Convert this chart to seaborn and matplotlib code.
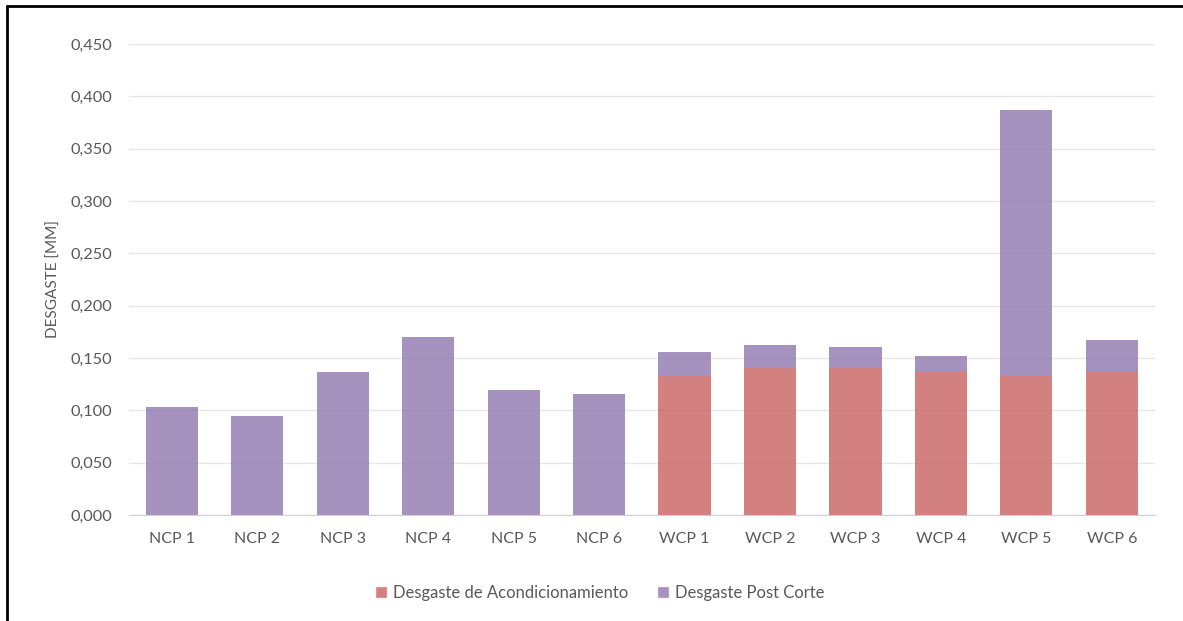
import seaborn as sns
import matplotlib.pyplot as plt
import pandas as pd
from matplotlib.patches import Patch
from matplotlib.lines import Line2D
from matplotlib.ticker import FuncFormatter, MultipleLocator

categories = ["NCP 1", "NCP 2", "NCP 3", "NCP 4", "NCP 5", "NCP 6",
              "WCP 1", "WCP 2", "WCP 3", "WCP 4", "WCP 5", "WCP 6"]
acondicionamiento = [0, 0, 0, 0, 0, 0,
                     0.1325, 0.1407, 0.1407, 0.1373, 0.1325, 0.1373]
post_corte = [0.1030, 0.0946, 0.1366, 0.1700, 0.1194, 0.1156,
              0.0235, 0.0217, 0.0198, 0.0147, 0.2545, 0.0296]

red = "#CC6A6A"
purple = "#957FB4"
text_color = "#595959"

df = pd.DataFrame({"muestra": categories,
                   "acond": acondicionamiento,
                   "post": post_corte})

sns.set_style("white")
plt.rcParams["font.family"] = ["Lato", "DejaVu Sans"]

fig = plt.figure(figsize=(11.83, 6.21), dpi=100)
ax = fig.add_axes([0.109, 0.1707, 0.867, 0.7584])

sns.barplot(data=df, x="muestra", y="acond", color=red, alpha=0.85,
            width=0.61, linewidth=0, saturation=1, ax=ax)
sns.barplot(data=df, x="muestra", y="post", bottom=df["acond"].values,
            color=purple, alpha=0.85, width=0.61, linewidth=0,
            saturation=1, ax=ax)

ax.set_ylim(0, 0.45)
ax.set_xlim(-0.5, 11.5)
ax.yaxis.set_major_locator(MultipleLocator(0.05))
ax.yaxis.set_major_formatter(FuncFormatter(lambda v, p: f"{v:.3f}".replace(".", ",")))
ax.grid(axis="y", color="#E6E6E6", linewidth=1)
ax.set_axisbelow(True)
for s in ["top", "right", "left"]:
    ax.spines[s].set_visible(False)
ax.spines["bottom"].set_color("#D0D0D0")
ax.tick_params(axis="y", length=0, labelsize=11.8, labelcolor=text_color, pad=12)
ax.tick_params(axis="x", length=0, labelsize=11.5, labelcolor=text_color, pad=12)
ax.set_xlabel("")
ax.set_ylabel("DESGASTE [MM]", fontsize=11, color=text_color)
ax.yaxis.set_label_coords(-0.066, 0.5)

handles = [Patch(facecolor=red, alpha=0.85, label="Desgaste de Acondicionamiento"),
           Patch(facecolor=purple, alpha=0.85, label="Desgaste Post Corte")]
leg = fig.legend(handles=handles, loc="center", bbox_to_anchor=(0.507, 0.045),
                 ncol=2, frameon=False, fontsize=12, handlelength=0.75,
                 handleheight=0.75, columnspacing=1.7, handletextpad=0.35)
for t in leg.get_texts():
    t.set_color(text_color)

# outer frame (left and top edges visible)
fig.add_artist(Line2D([7 / 1183, 7 / 1183], [0, 1 - 6 / 621],
                      color="black", linewidth=2, transform=fig.transFigure))
fig.add_artist(Line2D([7 / 1183, 1], [1 - 6 / 621, 1 - 6 / 621],
                      color="black", linewidth=2, transform=fig.transFigure))

plt.savefig("out.png", dpi=100)
